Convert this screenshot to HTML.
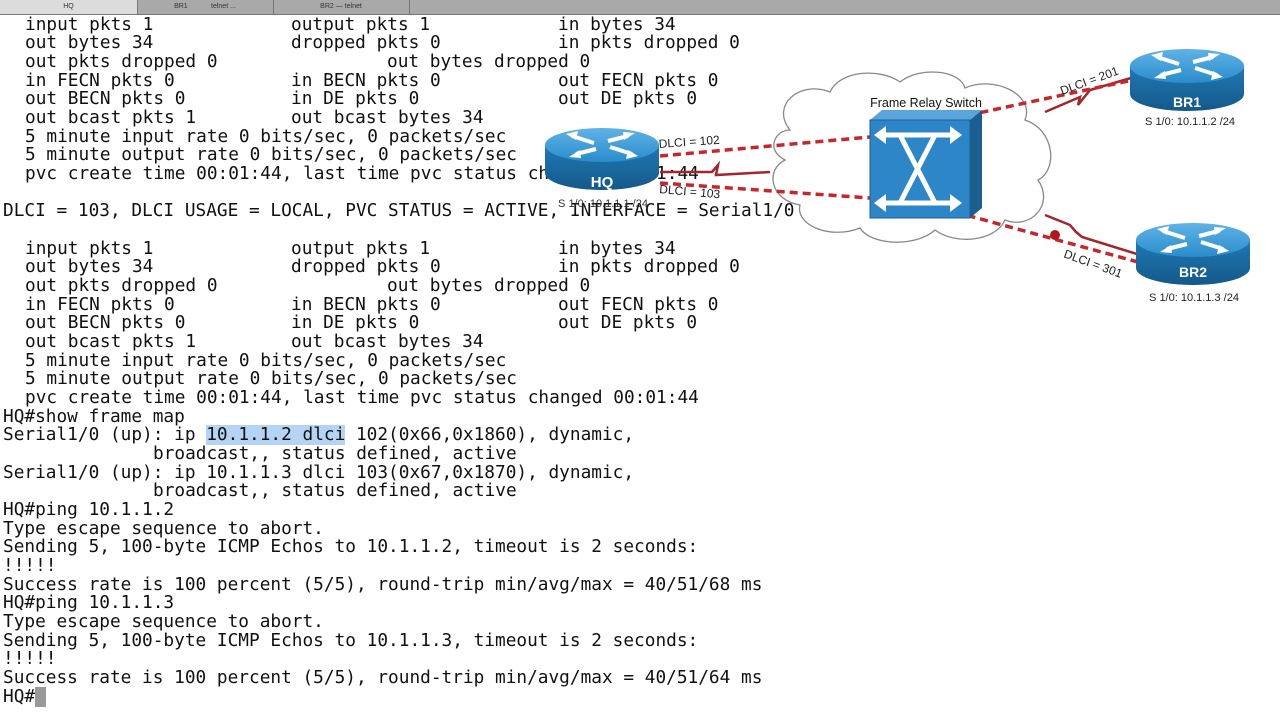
<!DOCTYPE html>
<html><head><meta charset="utf-8"><style>
html,body{margin:0;padding:0;background:#fff;width:1280px;height:720px;overflow:hidden;position:relative}
.tabs{position:absolute;left:0;top:0;width:1280px;height:14px;background:#a9a9a9;border-bottom:1px solid #777}
.tab{position:absolute;top:0;height:14px;font:7px "Liberation Sans",sans-serif;color:#333;line-height:14px;text-align:center;border-right:1px solid #777}
.t{position:absolute;font-family:"DejaVu Sans Mono","Liberation Mono",monospace;font-size:17.77px;line-height:18.67px;white-space:pre;color:#111}
svg{position:absolute;left:0;top:0}
</style></head><body>
<div class="tabs">
<div class="tab" style="left:0;width:137px;background:#dcdcdc">HQ</div>
<div class="tab" style="left:137px;width:136px">BR1 &nbsp;&nbsp;&nbsp;&nbsp;&nbsp;&nbsp;&nbsp;&nbsp;&nbsp;&nbsp; telnet ...</div>
<div class="tab" style="left:273px;width:136px">BR2 — telnet</div>
</div>
<div id="txt"></div>
<script>
var L=[
[[25,"input pkts 1"],[291,"output pkts 1"],[558,"in bytes 34"]],
[[25,"out bytes 34"],[291,"dropped pkts 0"],[558,"in pkts dropped 0"]],
[[25,"out pkts dropped 0"],[387,"out bytes dropped 0"]],
[[25,"in FECN pkts 0"],[291,"in BECN pkts 0"],[558,"out FECN pkts 0"]],
[[25,"out BECN pkts 0"],[291,"in DE pkts 0"],[558,"out DE pkts 0"]],
[[25,"out bcast pkts 1"],[291,"out bcast bytes 34"]],
[[25,"5 minute input rate 0 bits/sec, 0 packets/sec"]],
[[25,"5 minute output rate 0 bits/sec, 0 packets/sec"]],
[[25,"pvc create time 00:01:44, last time pvc status changed 00:01:44"]],
[],
[[3,"DLCI = 103, DLCI USAGE = LOCAL, PVC STATUS = ACTIVE, INTERFACE = Serial1/0"]],
[],
[[25,"input pkts 1"],[291,"output pkts 1"],[558,"in bytes 34"]],
[[25,"out bytes 34"],[291,"dropped pkts 0"],[558,"in pkts dropped 0"]],
[[25,"out pkts dropped 0"],[387,"out bytes dropped 0"]],
[[25,"in FECN pkts 0"],[291,"in BECN pkts 0"],[558,"out FECN pkts 0"]],
[[25,"out BECN pkts 0"],[291,"in DE pkts 0"],[558,"out DE pkts 0"]],
[[25,"out bcast pkts 1"],[291,"out bcast bytes 34"]],
[[25,"5 minute input rate 0 bits/sec, 0 packets/sec"]],
[[25,"5 minute output rate 0 bits/sec, 0 packets/sec"]],
[[25,"pvc create time 00:01:44, last time pvc status changed 00:01:44"]],
[[3,"HQ#show frame map"]],
[[3,"Serial1/0 (up): ip <span style=\"background:#b5d3f3\">10.1.1.2 dlci</span> 102(0x66,0x1860), dynamic,"]],
[[153,"broadcast,, status defined, active"]],
[[3,"Serial1/0 (up): ip 10.1.1.3 dlci 103(0x67,0x1870), dynamic,"]],
[[153,"broadcast,, status defined, active"]],
[[3,"HQ#ping 10.1.1.2"]],
[[3,"Type escape sequence to abort."]],
[[3,"Sending 5, 100-byte ICMP Echos to 10.1.1.2, timeout is 2 seconds:"]],
[[3,"!!!!!"]],
[[3,"Success rate is 100 percent (5/5), round-trip min/avg/max = 40/51/68 ms"]],
[[3,"HQ#ping 10.1.1.3"]],
[[3,"Type escape sequence to abort."]],
[[3,"Sending 5, 100-byte ICMP Echos to 10.1.1.3, timeout is 2 seconds:"]],
[[3,"!!!!!"]],
[[3,"Success rate is 100 percent (5/5), round-trip min/avg/max = 40/51/64 ms"]],
[[3,"HQ#<span style=\"background:#999;color:#999\">_</span>"]]
];
var h="";
L.forEach(function(l,i){l.forEach(function(s){h+='<div class="t" style="left:'+s[0]+'px;top:'+(15.5+18.67*i).toFixed(2)+'px">'+s[1]+'</div>';});});
document.getElementById("txt").innerHTML=h;
</script>
<svg width="1280" height="720" viewBox="0 0 1280 720" font-family="Liberation Sans,sans-serif">
<defs>
<linearGradient id="rt" x1="0" y1="0" x2="0" y2="1"><stop offset="0" stop-color="#5fb3e6"/><stop offset="1" stop-color="#2a8ccc"/></linearGradient>
<linearGradient id="rb" x1="0" y1="0" x2="0" y2="1"><stop offset="0" stop-color="#1f79b5"/><stop offset="1" stop-color="#14598a"/></linearGradient>
<g id="router">
<path d="M-57,0 L-57,28 A57,17 0 0 0 57,28 L57,0 Z" fill="url(#rb)"/>
<ellipse cx="0" cy="0" rx="57" ry="17" fill="url(#rt)"/>
<g stroke="#fff" stroke-width="4" fill="#fff">
<line x1="-30" y1="-9" x2="-8" y2="-2"/><line x1="30" y1="9" x2="8" y2="2"/>
<line x1="-26" y1="9" x2="-6" y2="4"/><line x1="26" y1="-9" x2="6" y2="-4"/>
</g>
<g fill="#fff"><polygon points="-36,-11 -24,-14 -26,-5"/><polygon points="36,11 24,14 26,5"/><polygon points="-33,12 -22,5 -21,13"/><polygon points="33,-12 22,-5 21,-13"/></g>
</g>
</defs>
<path d="M790,130 C770,105 800,80 830,92 C840,70 880,68 900,82 C920,66 960,70 965,88 C995,75 1035,95 1025,120 C1055,130 1058,170 1038,180 C1055,205 1030,230 1005,220 C995,242 955,245 935,230 C915,248 870,245 860,228 C830,240 795,225 800,205 C770,200 765,170 785,160 C765,150 775,130 790,130 Z" fill="#fff" stroke="#888" stroke-width="1.3"/>
<text x="926" y="107" font-size="12.5" text-anchor="middle" fill="#111">Frame Relay Switch</text>
<g stroke="#a3262a" stroke-width="2.5" fill="none">
<polyline points="660,172 712,172 718,165 716,175 770,172"/>
<polyline points="1045,112 1080,97 1078,105 1090,90 1131,78"/>
<polyline points="1045,215 1070,225 1076,232 1082,237 1140,255"/>
</g>
<g stroke="#c8262b" stroke-width="3.5" stroke-dasharray="8,5" fill="none">
<line x1="660" y1="156" x2="870" y2="137"/>
<line x1="660" y1="183" x2="870" y2="198"/>
<line x1="955" y1="118" x2="1133" y2="80"/>
<line x1="955" y1="212" x2="1138" y2="262"/>
</g>
<circle cx="1055" cy="235" r="5" fill="#b01820"/>
<polygon points="870,120 882,110 982,110 970,120" fill="#5aa6dc"/>
<polygon points="970,120 982,110 982,208 970,218" fill="#1c5f8f"/>
<rect x="870" y="120" width="100" height="98" fill="#2d86c8" stroke="#1d5f93"/>
<g stroke="#fff" stroke-width="5" fill="none"><path d="M880,135 L955,135 M880,203 L955,203 M900,135 L935,203 M935,135 L900,203"/></g>
<g fill="#fff"><polygon points="874,135 886,126 886,144"/><polygon points="962,135 950,126 950,144"/><polygon points="874,203 886,194 886,212"/><polygon points="962,203 950,194 950,212"/></g>
<use href="#router" x="602" y="145"/>
<text x="602" y="187" font-size="15" fill="#fff" text-anchor="middle" font-weight="bold">HQ</text>
<text x="603" y="207" font-size="11" fill="#333" text-anchor="middle">S 1/0: 10.1.1.1 /24</text>
<use href="#router" x="1187" y="66"/>
<text x="1187" y="107" font-size="14" fill="#fff" text-anchor="middle" font-weight="bold">BR1</text>
<text x="1190" y="125" font-size="11" fill="#222" text-anchor="middle">S 1/0: 10.1.1.2 /24</text>
<use href="#router" x="1193" y="240"/>
<text x="1193" y="277" font-size="14" fill="#fff" text-anchor="middle" font-weight="bold">BR2</text>
<text x="1194" y="301" font-size="11" fill="#222" text-anchor="middle">S 1/0: 10.1.1.3 /24</text>
<text x="659" y="148" font-size="12" fill="#222" transform="rotate(-4 659 148)">DLCI = 102</text>
<text x="659" y="193" font-size="12" fill="#222" transform="rotate(5 659 193)">DLCI = 103</text>
<text x="1062" y="95" font-size="12" fill="#222" transform="rotate(-20 1062 95)">DLCI = 201</text>
<text x="1063" y="257" font-size="12" fill="#222" transform="rotate(20 1063 257)">DLCI = 301</text>
</svg>
</body></html>
